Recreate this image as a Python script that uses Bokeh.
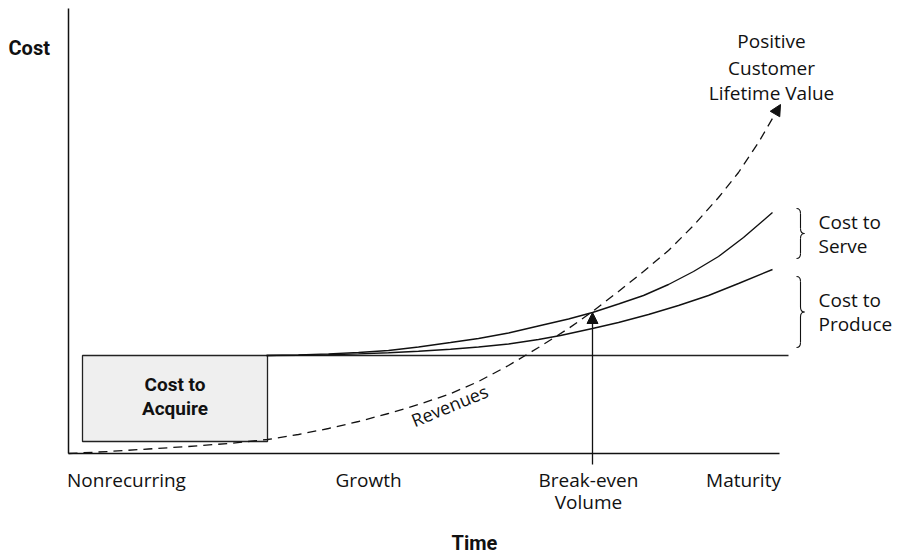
from bokeh.plotting import figure
from bokeh.models import Range1d, Arrow, NormalHead
from bokeh.core.properties import value
from bokeh.embed import file_html
from bokeh.resources import INLINE

# ---- data (time units on x, cost units on y) ----
time_axis_end = 711
cost_axis_end = 445

acquire_time = [14, 199]
acquire_cost = [12, 98]

fixed_cost_level = 98
fixed_cost_end = 720

serve_t = [198, 230, 260, 290, 320, 350, 382, 410, 440, 472, 500, 524, 550, 575, 600, 625, 650, 675, 704]
serve_c = [98, 98.6, 99.6, 101, 103, 106.5, 111, 115, 120.5, 128, 134.5, 141, 149.5, 158, 169, 182, 197, 216, 241]

produce_t = [198, 230, 260, 290, 320, 350, 382, 410, 440, 470, 492, 524, 550, 580, 610, 640, 670, 704]
produce_c = [98, 98.3, 98.8, 99.6, 100.7, 102.2, 104.3, 106.5, 109.5, 114, 118, 125, 131, 139, 148, 158, 170, 184]

revenue_t = [0, 40, 80, 120, 160, 199, 230, 260, 290, 320, 350, 380, 410, 440, 470, 500, 524,
             550, 575, 600, 625, 650, 670, 690, 712]
revenue_c = [0, 2, 4.5, 7, 10, 14, 19, 25, 32, 40, 49, 59, 72, 88, 106, 125, 142,
             162, 182, 203, 228, 256, 281, 311, 349]

breakeven_t = 524
breakeven_c = 141

phase_labels = ["Nonrecurring", "Growth", "Break-even", "Maturity"]
phase_sub = ["", "", "Volume", ""]
phase_t = [58, 300, 520, 675]

brace_labels = [["Cost to", "Serve"], ["Cost to", "Produce"]]
brace_top = [245, 177]
brace_bottom = [195, 106]

FONT = "Open Sans"
BOLD = "Roboto"

p = figure(width=902, height=557, x_range=Range1d(-68, 834), y_range=Range1d(-104, 453),
           output_backend="svg", toolbar_location=None, min_border=0,
           x_axis_location=None, y_axis_location=None)
p.grid.visible = False
p.outline_line_color = None

# axes
p.segment(x0=[0, 0], y0=[0, 0], x1=[time_axis_end, 0], y1=[0, cost_axis_end],
          line_color="#111111", line_width=1.5)

# cost to acquire box
p.quad(left=acquire_time[0], right=acquire_time[1], bottom=acquire_cost[0], top=acquire_cost[1],
       fill_color="#efefef", line_color="#222222", line_width=1.3)
p.text(x=[(acquire_time[0] + acquire_time[1]) / 2] * 2, y=[69, 45], text=["Cost to", "Acquire"],
       text_font=value(BOLD), text_font_style="bold", text_font_size="19px",
       text_align="center", text_baseline="middle", text_color="#111111")

# fixed cost line
p.segment(x0=[acquire_time[1]], y0=[fixed_cost_level], x1=[fixed_cost_end], y1=[fixed_cost_level],
          line_color="#222222", line_width=1.3)

# curves
p.line(serve_t, serve_c, line_color="#111111", line_width=1.4)
p.line(produce_t, produce_c, line_color="#111111", line_width=1.4)
p.line(revenue_t, revenue_c, line_color="#111111", line_width=1.3, line_dash="9 6")

# revenue arrow head
p.add_layout(Arrow(x_start=revenue_t[-2], y_start=revenue_c[-2], x_end=revenue_t[-1], y_end=revenue_c[-1],
                   line_alpha=0,
                   end=NormalHead(size=11, fill_color="#111111", line_color="#111111", line_width=1)))

# break-even arrow
p.add_layout(Arrow(x_start=breakeven_t, y_start=-11, x_end=breakeven_t, y_end=breakeven_c,
                   line_color="#111111", line_width=1.3,
                   end=NormalHead(size=11, fill_color="#111111", line_color="#111111", line_width=1)))

# revenue label
p.text(x=[381], y=[48], text=["Revenues"], angle=0.39,
       text_font=value(FONT), text_font_size="18px", text_align="center",
       text_baseline="middle", text_color="#111111")

# positive CLV label
p.text(x=[703] * 3, y=[413, 386, 361], text=["Positive", "Customer", "Lifetime Value"],
       text_font=value(FONT), text_font_size="19px", text_align="center",
       text_baseline="middle", text_color="#111111")

# braces
for (lab, top, bot) in zip(brace_labels, brace_top, brace_bottom):
    xl, xm, xt = 728, 732, 736
    mid = (top + bot) / 2
    r = 5
    p.quadratic(x0=[xl, xm, xt, xm], y0=[top, mid + r, mid, bot + r],
                x1=[xm, xt, xm, xl], y1=[top - r, mid, mid - r, bot],
                cx=[xm, xm, xm, xm], cy=[top, mid, mid, bot],
                line_color="#111111", line_width=1.1)
    p.segment(x0=[xm, xm], y0=[top - r, mid - r], x1=[xm, xm], y1=[mid + r, bot + r],
              line_color="#111111", line_width=1.1)
    p.text(x=[750, 750], y=[mid + 12, mid - 12], text=lab,
           text_font=value(FONT), text_font_size="19px", text_align="left",
           text_baseline="middle", text_color="#111111")

# phase labels
p.text(x=phase_t, y=[-26] * 4, text=phase_labels, text_font=value(FONT), text_font_size="19px",
       text_align="center", text_baseline="middle", text_color="#111111")
p.text(x=phase_t, y=[-48] * 4, text=phase_sub, text_font=value(FONT), text_font_size="19px",
       text_align="center", text_baseline="middle", text_color="#111111")

# axis titles
p.text(x=[-60], y=[406], text=["Cost"], text_font=value(BOLD), text_font_style="bold",
       text_font_size="20px", text_align="left", text_baseline="middle", text_color="#111111")
p.text(x=[406], y=[-89], text=["Time"], text_font=value(BOLD), text_font_style="bold",
       text_font_size="20px", text_align="center", text_baseline="middle", text_color="#111111")

open("out.html", "w").write(file_html(p, INLINE))
